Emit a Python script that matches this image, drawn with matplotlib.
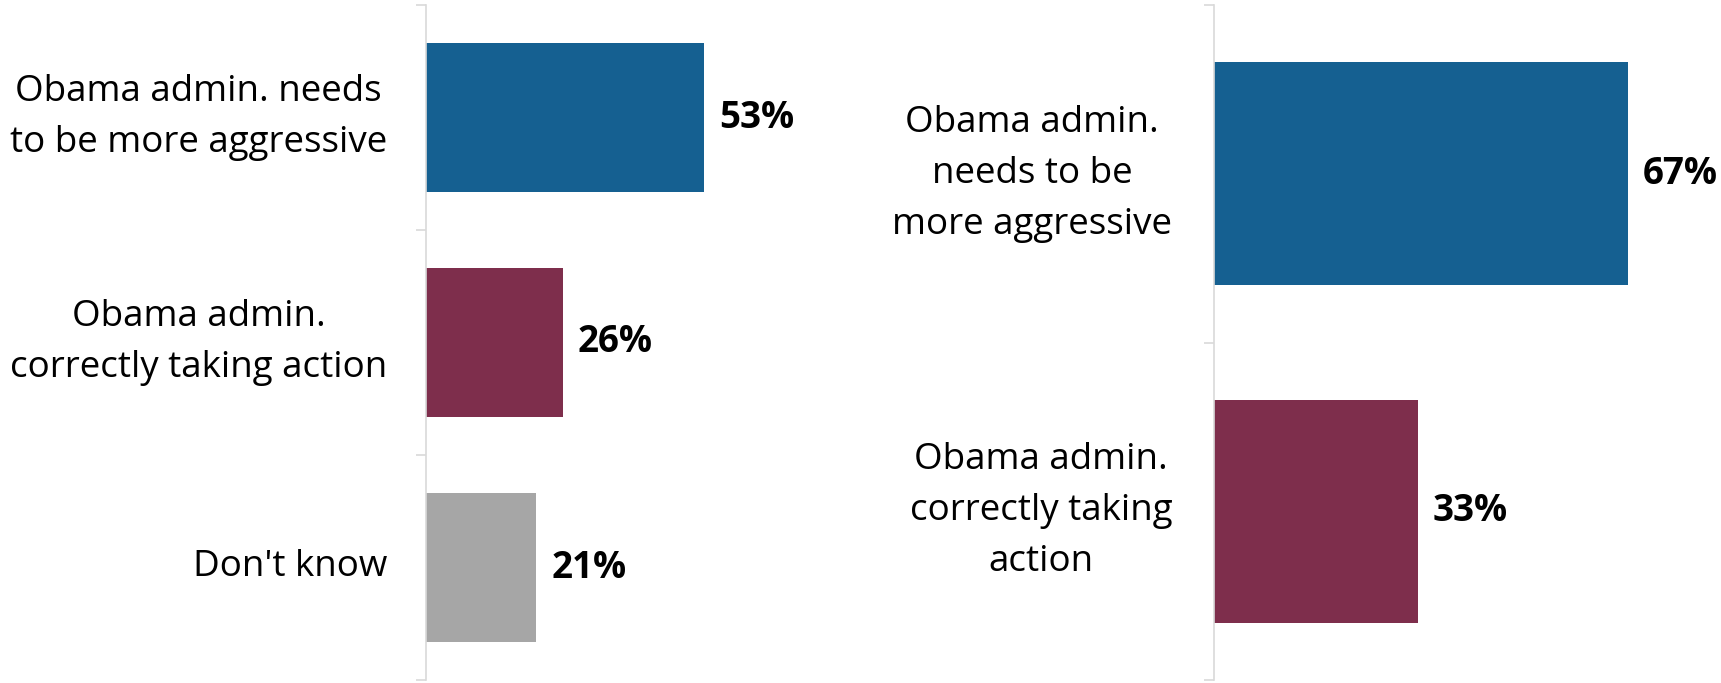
import matplotlib
matplotlib.use("Agg")
import matplotlib.pyplot as plt
import numpy as np

plt.rcParams['font.family'] = ['Open Sans', 'DejaVu Sans']

# left panel
left_labels = ["Obama admin. needs\nto be more aggressive",
               "Obama admin.\ncorrectly taking action",
               "Don't know"]
left_values = [53, 26, 21]
left_colors = ["#156091", "#7e2e4c", "#a6a6a6"]

# right panel
right_labels = ["Obama admin.\nneeds to be\nmore aggressive",
                "Obama admin.\ncorrectly taking\naction"]
right_values = [67, 33]
right_colors = ["#156091", "#7e2e4c"]

W, H = 1721, 683
fig = plt.figure(figsize=(W / 100, H / 100), dpi=100)

FS = 26.5


def draw_panel(ax, labels, values, colors, label_x):
    n = len(values)
    y = np.arange(n)
    ax.barh(y, values, height=0.66, color=colors)
    ax.set_ylim(n - 0.5, -0.5)
    ax.set_yticks([])
    ax.set_yticks(np.arange(n + 1) - 0.5, minor=True)
    ax.tick_params(axis='y', which='minor', length=7, color='#d9d9d9', width=1.2)
    ax.set_xticks([])
    for s in ['top', 'right', 'bottom']:
        ax.spines[s].set_visible(False)
    ax.spines['left'].set_color('#d9d9d9')
    ax.spines['left'].set_linewidth(1.2)
    for i, (lab, v) in enumerate(zip(labels, values)):
        ax.annotate(f"{v}%", (v, i), xytext=(11, 0), textcoords='offset points',
                    ha='left', va='center', fontsize=FS, fontweight='bold',
                    annotation_clip=False)
        ax.annotate(lab, (0, i), xytext=(label_x, 0), textcoords='offset points',
                    ha='right', va='center', multialignment='center',
                    fontsize=FS, linespacing=1.55, annotation_clip=False)


ax1 = fig.add_axes([426 / W, 3 / H, 315 / W, 675 / H])
ax1.set_xlim(0, 60)
draw_panel(ax1, left_labels, left_values, left_colors, -28)

ax2 = fig.add_axes([1214 / W, 3 / H, 494 / W, 675 / H])
ax2.set_xlim(0, 80)
draw_panel(ax2, right_labels, right_values, right_colors, -30)

fig.savefig("out.png", dpi=100)
